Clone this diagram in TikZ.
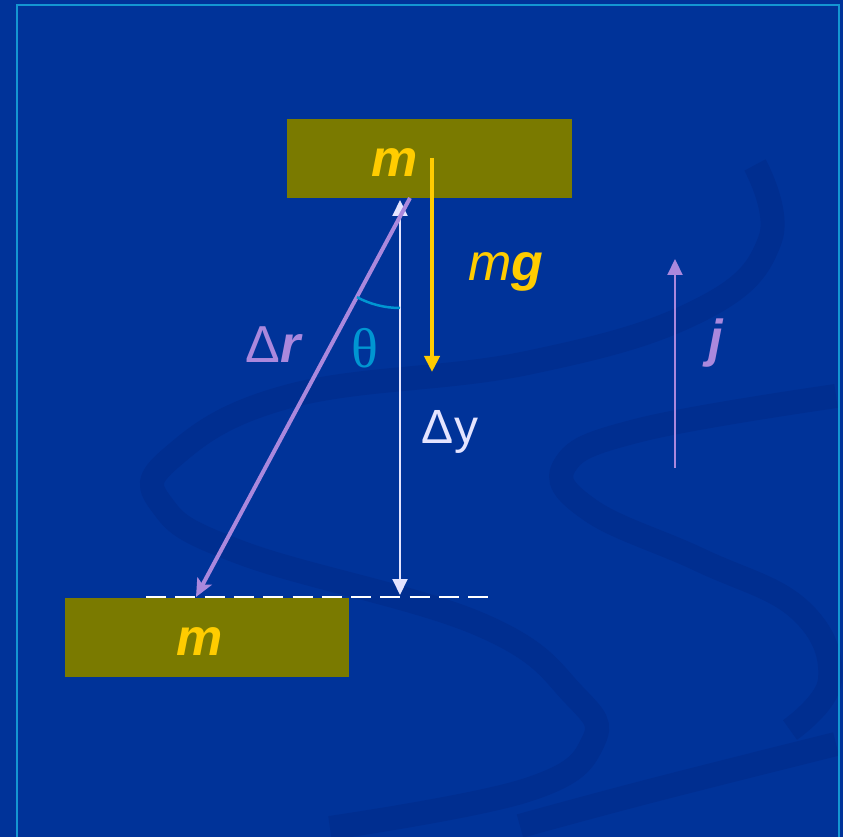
\documentclass[tikz,border=0pt]{standalone}
\usepackage{fontspec}
\setmainfont{Liberation Sans}
\newfontfamily\serifgreek{Liberation Serif}
\usetikzlibrary{arrows.meta}
\definecolor{bgblue}{RGB}{0,51,153}
\definecolor{swooshc}{RGB}{0,46,144}
\definecolor{framec}{RGB}{20,150,210}
\definecolor{olivebox}{RGB}{122,122,0}
\definecolor{goldc}{RGB}{255,204,0}
\definecolor{lavc}{RGB}{170,136,221}
\definecolor{palec}{RGB}{228,228,255}
\definecolor{thetac}{RGB}{0,150,210}
\tikzset{
  swoosh/.style={draw=swooshc, line width=24pt, line cap=butt},
  massbox/.style={fill=olivebox, draw=none, minimum height=79pt, inner sep=0pt},
  masslabel/.style={text=goldc, font=\fontsize{52}{52}\selectfont\bfseries\itshape, inner sep=0pt},
}
\begin{document}
\begin{tikzpicture}[x=1pt,y=1pt]
\useasboundingbox (0,0) rectangle (843,836);
\fill[bgblue] (-5,-5) rectangle (848,841);
% background swooshes
\draw[swoosh] plot[smooth, tension=0.7] coordinates {(755,671) (770,596) (700,526) (527,473) (290,440) (171,378) (162,331) (242,283) (479,212) (574,141) (593,94) (527,46) (330,8)};
\draw[swoosh] plot[smooth, tension=0.7] coordinates {(836,440) (640,406) (565,371) (590,326) (700,276) (800,226) (830,156) (790,106)};
\draw[swoosh] plot[smooth, tension=0.7] coordinates {(520,10) (650,45) (836,92)};
% frame
\draw[framec, line width=2pt] (17,-5) -- (17,831) -- (839,831) -- (839,-5);
% blocks
\node[massbox, minimum width=285pt] (top) at (429.5,677.5) {};
\node[massbox, minimum width=284pt] (bot) at (207,198.5) {};
\node[masslabel] (mtop) at (395,673) {m};
\node[masslabel] (mbot) at (200,194) {m};
% coordinates
\coordinate (dyT) at (400,636);
\coordinate (dyB) at (400,241);
\coordinate (dashL) at (146,239);
\coordinate (dashR) at (491,239);
\coordinate (drS) at (410,638);
\coordinate (drE) at (196,239);
\coordinate (mgS) at (432,678);
\coordinate (mgE) at (432,464);
\coordinate (jS) at (675,368);
\coordinate (jE) at (675,577);
\coordinate (vtx) at (400,619);
% dashed reference line
\draw[white, line width=2.8pt, dash pattern=on 20pt off 9.3pt] (dashL) -- (dashR);
% delta y
\draw[palec, line width=2pt, {Triangle[width=15pt,length=16pt]}-{Triangle[width=15pt,length=16pt]}] (dyB) -- (dyT);
% delta r
\draw[lavc, line width=4pt, -{Stealth[width=16pt,length=18pt,inset=4pt]}] (drS) -- (drE);
% mg
\draw[goldc, line width=4pt, -{Triangle[width=15pt,length=16pt]}] (mgS) -- (mgE);
% j
\draw[lavc, line width=2.2pt, -{Triangle[width=15pt,length=16pt]}] (jS) -- (jE);
% angle arc
\draw[thetac, line width=2.5pt] ([shift={(241.8:91)}]vtx) arc[start angle=241.8, end angle=270, radius=91];
% labels
\node[inner sep=0pt, font=\fontsize{52}{52}\selectfont] (mg) at (506,564) {\color{goldc}\itshape m{\bfseries g}};
\node[inner sep=0pt, font=\fontsize{52}{52}\selectfont] (dr) at (273,491) {\color{lavc}Δ{\bfseries\itshape r}};
\node[inner sep=0pt, text=thetac, font=\fontsize{56}{56}\selectfont\serifgreek] (th) at (365,488) {θ};
\node[inner sep=0pt, text=palec, font=\fontsize{48}{48}\selectfont] (dy) at (450,404) {Δy};
\node[inner sep=0pt, text=lavc, font=\fontsize{52}{52}\selectfont\bfseries\itshape] (j) at (716,493) {j};
\end{tikzpicture}
\end{document}
